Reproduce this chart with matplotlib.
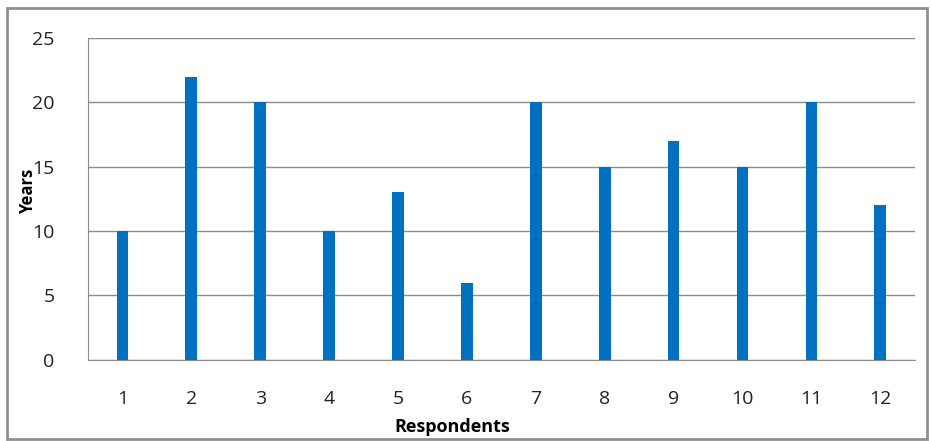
import matplotlib.pyplot as plt
from matplotlib.patches import Rectangle

# data
respondents = ['1', '2', '3', '4', '5', '6', '7', '8', '9', '10', '11', '12']
years = [10, 22, 20, 10, 13, 6, 20, 15, 17, 15, 20, 12]
yticks = [0, 5, 10, 15, 20, 25]

plt.rcParams['font.family'] = ['Open Sans', 'DejaVu Sans']

fig = plt.figure(figsize=(9.31, 4.41), dpi=100)
ax = fig.add_axes([0.0945, 0.184, 0.888, 0.730])

x = list(range(len(respondents)))
ax.bar(x, years, width=0.17, color='#0070C0', zorder=3)

ax.set_xlim(-0.5, len(respondents) - 0.5)
ax.set_ylim(0, 25)
ax.set_yticks(yticks)
ax.set_xticks(x)
ax.set_xticklabels(respondents)
ax.yaxis.grid(True, color='#8c8c8c', linewidth=1.0, zorder=0)
ax.tick_params(axis='both', length=0, labelsize=14, colors='#222222')
ax.tick_params(axis='y', pad=24)
ax.tick_params(axis='x', pad=22)

for s in ['top', 'right']:
    ax.spines[s].set_visible(False)
ax.spines['left'].set_color('#8c8c8c')
ax.spines['bottom'].set_color('#8c8c8c')

# y label sits just left of the tick numbers
fig.text(0.030, 0.565, 'Years', rotation=90, fontsize=12, fontweight='bold',
         ha='center', va='center')
fig.text(0.486, 0.032, 'Respondents', fontsize=13, fontweight='bold',
         ha='center', va='center')

# outer chart frame
fig.patches.append(Rectangle((0.008, 0.005), 0.988, 0.977, transform=fig.transFigure,
                             fill=False, edgecolor='#909090', linewidth=2))

fig.savefig('out.png', dpi=100)
